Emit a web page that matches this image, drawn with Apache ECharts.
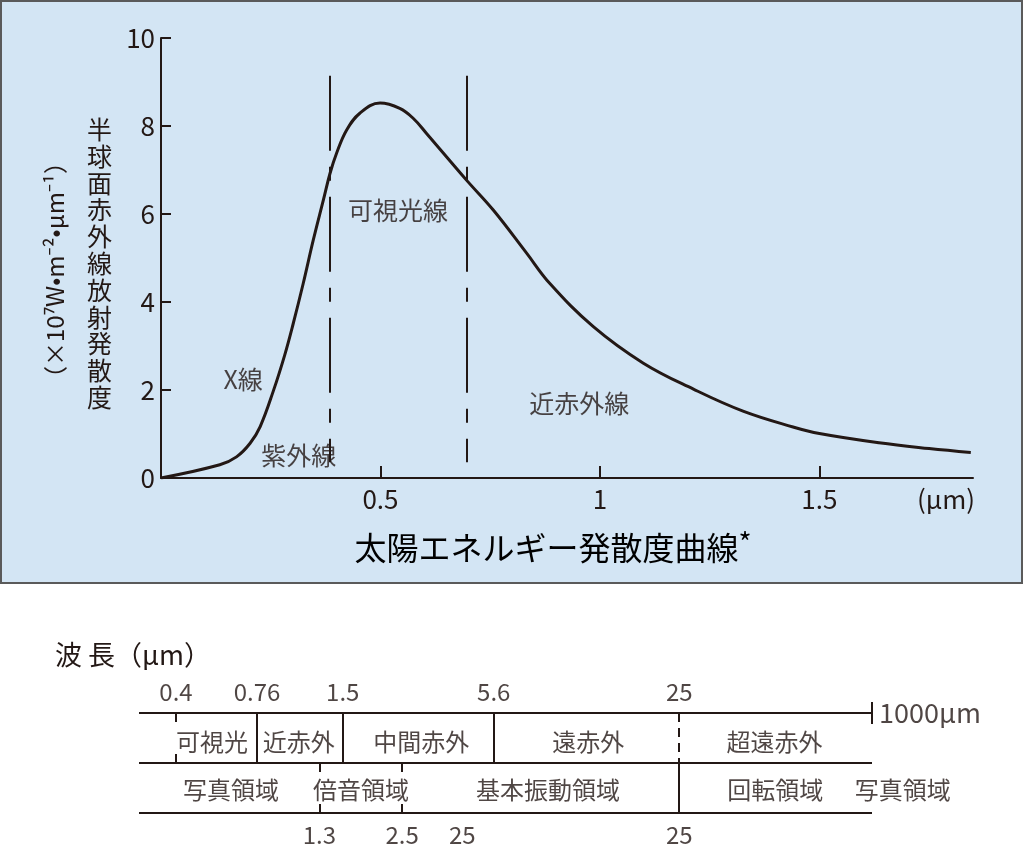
<!DOCTYPE html>
<html>
<head>
<meta charset="utf-8">
<script src="https://cdn.jsdelivr.net/npm/echarts@6/dist/echarts.min.js"></script>
<style>
  html, body { margin: 0; padding: 0; background: #fff; }
  #main { width: 1024px; height: 865px; }
</style>
</head>
<body>
<div id="main"></div>
<script>
// 太陽エネルギー発散度曲線 (um, x10^7 W m^-2 um^-1)
var wavelength = [0, 0.134, 0.172, 0.203, 0.226, 0.256, 0.282, 0.301, 0.324, 0.347, 0.370, 0.385, 0.40, 0.423, 0.453, 0.499, 0.544, 0.575, 0.605, 0.696, 0.757, 0.833, 0.886, 0.985, 1.099, 1.213, 1.326, 1.44, 1.50, 1.636, 1.75, 1.845];
var emittance  = [0, 0.30, 0.48, 0.79, 1.17, 1.98, 2.80, 3.50, 4.42, 5.41, 6.32, 6.92, 7.38, 7.91, 8.29, 8.52, 8.40, 8.17, 7.83, 6.77, 6.09, 5.11, 4.42, 3.44, 2.61, 2.02, 1.52, 1.16, 1.01, 0.80, 0.67, 0.58];
var xTicks = [0.5, 1, 1.5];
var yTicks = [0, 2, 4, 6, 8, 10];

// 可視光の境界 (破線)
var bandEdges = [0.385, 0.697];
var edgeFrom = 9.14, edgeTo = 0.36;

var noteText = ['可視光線', 'X線', '紫外線', '近赤外線'];
var noteX    = [0.54, 0.187, 0.314, 0.953];
var noteY    = [6.07, 2.25, 0.52, 1.70];

// 波長区分図 (模式的な位置 0..100)
var topEdgePos   = [5.05, 16.1, 27.8, 48.4, 73.7];
var topEdgeText  = ['0.4', '0.76', '1.5', '5.6', '25'];
var topEdgeKind  = ['tick', 'solid', 'solid', 'solid', 'dashed'];
var topBandName  = ['可視光', '近赤外', '中間赤外', '遠赤外', '超遠赤外'];
var topBandPos   = [9.96, 21.8, 38.5, 61.3, 86.7];

var botEdgePos   = [24.6, 35.9, 73.7];
var botEdgeKind  = ['tick', 'tick', 'solid'];
var botNumText   = ['1.3', '2.5', '25', '25'];
var botNumPos    = [24.6, 35.9, 44.1, 73.7];
var botBandName  = ['写真領域', '倍音領域', '基本振動領域', '回転領域', '写真領域'];
var botBandPos   = [12.55, 30.3, 55.8, 86.8, 104.2];

var ink = '#231815';
var font = '"Noto Sans CJK JP", "Noto Sans", sans-serif';

var chart = echarts.init(document.getElementById('main'));

var curve = wavelength.map(function (w, i) { return [w, emittance[i]]; });
var notes = noteText.map(function (t, i) { return [noteX[i], noteY[i], t]; });

// diagram lines
var dLines = [];
function seg(x1, y1, x2, y2, type) {
    dLines.push({ coords: [[x1, y1], [x2, y2]], lineStyle: { type: type || 'solid' } });
}
[2, 1, 0].forEach(function (y) { seg(0, y, 100, y); });
seg(100, 2.22, 100, 1.78);
topEdgePos.forEach(function (p, i) {
    if (topEdgeKind[i] === 'tick') { seg(p, 2, p, 1.82); seg(p, 1.18, p, 1); }
    else if (topEdgeKind[i] === 'dashed') { seg(p, 2, p, 1, [9, 6]); }
    else { seg(p, 2, p, 1); }
});
botEdgePos.forEach(function (p, i) {
    if (botEdgeKind[i] === 'tick') { seg(p, 1, p, 0.82); seg(p, 0.18, p, 0); }
    else { seg(p, 1, p, 0); }
});

var dLabels = [];
topEdgePos.forEach(function (p, i) { dLabels.push([p, 2.42, topEdgeText[i]]); });
botNumPos.forEach(function (p, i) { dLabels.push([p, -0.44, botNumText[i]]); });
topBandPos.forEach(function (p, i) { dLabels.push([p, 1.42, topBandName[i]]); });
botBandPos.forEach(function (p, i) { dLabels.push([p, 0.46, botBandName[i]]); });
dLabels.push({
    value: [100.9, 2, '1000μm'],
    label: { position: 'right', distance: 0, fontSize: 27 }
});

option = {
    backgroundColor: '#fff',
    animation: false,
    textStyle: { fontFamily: font, color: ink },
    graphic: [
        {
            type: 'rect', z: -10, silent: true,
            shape: { x: 1, y: 1, width: 1021, height: 582 },
            style: { fill: '#d3e5f4', stroke: '#5a5a5a', lineWidth: 2 }
        },
        {
            type: 'text', left: 87, top: 116,
            style: {
                text: '半\n球\n面\n赤\n外\n線\n放\n射\n発\n散\n度',
                font: '25px ' + font, fill: ink, lineHeight: 26.8, align: 'center'
            }
        },
        {
            type: 'text', x: 55, y: 270, rotation: Math.PI / 2,
            style: {
                text: '（×10⁷W•m⁻²•μm⁻¹）',
                font: '24px ' + font, fill: ink, align: 'center', verticalAlign: 'middle'
            }
        },
        {
            type: 'text', x: 946, y: 499,
            style: { text: '(μm)', font: '26px ' + font, fill: ink, align: 'center', verticalAlign: 'middle' }
        },
        {
            type: 'text', x: 553, y: 548,
            style: {
                text: '{a|太陽エネルギー発散度曲線}{b|*}',
                align: 'center', verticalAlign: 'middle',
                rich: {
                    a: { fontFamily: font, fontSize: 32, color: ink },
                    b: { fontFamily: font, fontSize: 28, color: ink, verticalAlign: 'top', padding: [0, 0, 12, 0] }
                }
            }
        },
        {
            type: 'text', x: 55, y: 655,
            style: { text: '波 長（μm）', font: '27px ' + font, fill: ink, verticalAlign: 'middle' }
        }
    ],
    grid: [
        { left: 161, top: 38, width: 812, height: 440 },
        { left: 139, top: 663, width: 879.6, height: 200 }
    ],
    xAxis: [
        {
            type: 'value', gridIndex: 0, min: 0, max: 1.85, interval: 0.5,
            axisLine: { lineStyle: { color: ink, width: 2 } },
            axisTick: { inside: true, length: 12, lineStyle: { color: ink, width: 2 }, customValues: xTicks },
            axisLabel: { color: ink, fontSize: 26, fontFamily: font, margin: 8, customValues: xTicks },
            splitLine: { show: false }
        },
        { type: 'value', gridIndex: 1, min: 0, max: 120, show: false }
    ],
    yAxis: [
        {
            type: 'value', gridIndex: 0, min: 0, max: 10, interval: 2,
            axisLine: { show: true, lineStyle: { color: ink, width: 2 } },
            axisTick: { show: true, inside: true, length: 10, lineStyle: { color: ink, width: 2 }, customValues: [2, 4, 6, 8, 10] },
            axisLabel: { color: ink, fontSize: 26, fontFamily: font, margin: 6, customValues: yTicks },
            splitLine: { show: false }
        },
        { type: 'value', gridIndex: 1, min: -1, max: 3, show: false }
    ],
    series: [
        {
            type: 'line', xAxisIndex: 0, yAxisIndex: 0,
            data: curve, smooth: 0.4, symbol: 'none',
            lineStyle: { color: ink, width: 3 },
            markLine: {
                silent: true, symbol: 'none',
                label: { show: false },
                lineStyle: { color: ink, width: 2, type: [75, 16, 14, 16] },
                data: bandEdges.map(function (e) {
                    return [{ coord: [e, edgeFrom] }, { coord: [e, edgeTo] }];
                })
            }
        },
        {
            type: 'scatter', xAxisIndex: 0, yAxisIndex: 0,
            data: notes, symbolSize: 1, itemStyle: { color: 'rgba(0,0,0,0)' },
            label: {
                show: true, position: 'inside', color: ink, fontSize: 25, fontFamily: font,
                formatter: function (p) { return p.data[2]; }
            }
        },
        {
            type: 'lines', coordinateSystem: 'cartesian2d', xAxisIndex: 1, yAxisIndex: 1,
            data: dLines, polyline: false, silent: true,
            lineStyle: { color: ink, width: 2, opacity: 1, curveness: 0 }
        },
        {
            type: 'scatter', xAxisIndex: 1, yAxisIndex: 1,
            data: dLabels, symbolSize: 1, itemStyle: { color: 'rgba(0,0,0,0)' },
            label: {
                show: true, position: 'inside', color: ink, fontSize: 24, fontFamily: font,
                formatter: function (p) { return p.data.value ? p.data.value[2] : p.data[2]; }
            }
        }
    ]
};
chart.setOption(option);
</script>
</body>
</html>
